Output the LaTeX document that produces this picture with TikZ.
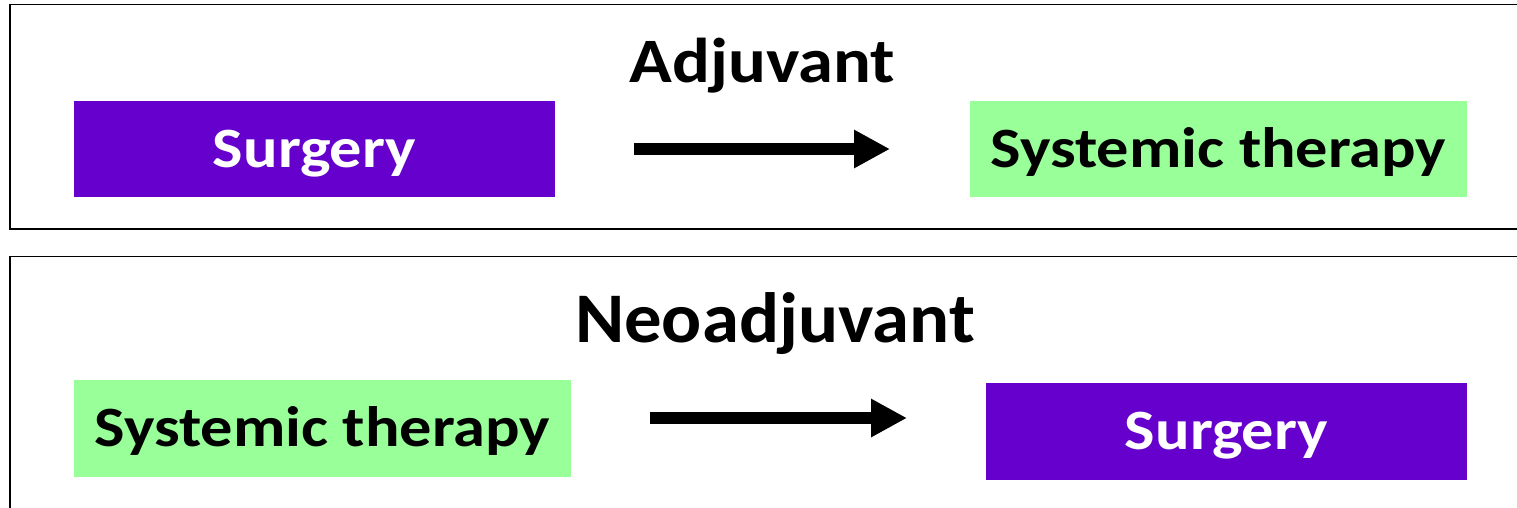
\documentclass[tikz,border=0pt]{standalone}
\usepackage{fontspec}
\setmainfont{Carlito}
\newfontfamily\boxfont[FakeStretch=1.13]{Carlito}
\newfontfamily\adjfont[FakeStretch=1.115]{Carlito}
\newfontfamily\neofont[FakeStretch=1.05]{Carlito}
\usetikzlibrary{arrows.meta}
\definecolor{surgpurple}{HTML}{6600CC}
\definecolor{sysgreen}{HTML}{99FF99}
\tikzset{
  frame/.style={draw=black, line width=1.8pt},
  boxbase/.style={inner sep=0pt, text height=36pt, text depth=0pt,
    font=\boxfont\fontsize{57}{62}\selectfont\bfseries},
  surgbox/.style={boxbase, fill=surgpurple, text=white},
  sysbox/.style={boxbase, fill=sysgreen, text=black},
  title/.style={inner sep=0pt, anchor=base},
  flow/.style={line width=12pt, -{Triangle[length=36pt,width=36pt]}}
}
\begin{document}
\begin{tikzpicture}[x=1pt,y=-1pt]
\useasboundingbox (0,0) rectangle (1517,507);
\clip (0,0) rectangle (1517,507);
\fill[white] (0,0) rectangle (1517,507);
% frames
\draw[frame] (10,4.5) rectangle (1540,229);
\draw[frame] (10,256.5) rectangle (1540,540);
% top panel
\node[title, font=\adjfont\fontsize{63.3}{68}\selectfont\bfseries] (t1) at (762.5,82) {Adjuvant};
\node[surgbox, minimum width=481pt, minimum height=96pt] (s1) at (314.5,149) {Surgery};
\node[sysbox, minimum width=497pt, minimum height=96pt] (g1) at (1218.5,149) {Systemic therapy};
\coordinate (a1s) at (634,149);
\coordinate (a1e) at (890,149);
\draw[flow] (a1s) -- (a1e);
% bottom panel
\node[title, font=\neofont\fontsize{71.2}{76}\selectfont\bfseries] (t2) at (775,342) {Neoadjuvant};
\node[sysbox, minimum width=497pt, minimum height=97pt] (g2) at (322.5,428.5) {Systemic therapy};
\node[surgbox, minimum width=481pt, minimum height=97pt] (s2) at (1226.5,431.5) {Surgery};
\coordinate (a2s) at (650,418);
\coordinate (a2e) at (907,418);
\draw[flow] (a2s) -- (a2e);
\end{tikzpicture}
\end{document}
